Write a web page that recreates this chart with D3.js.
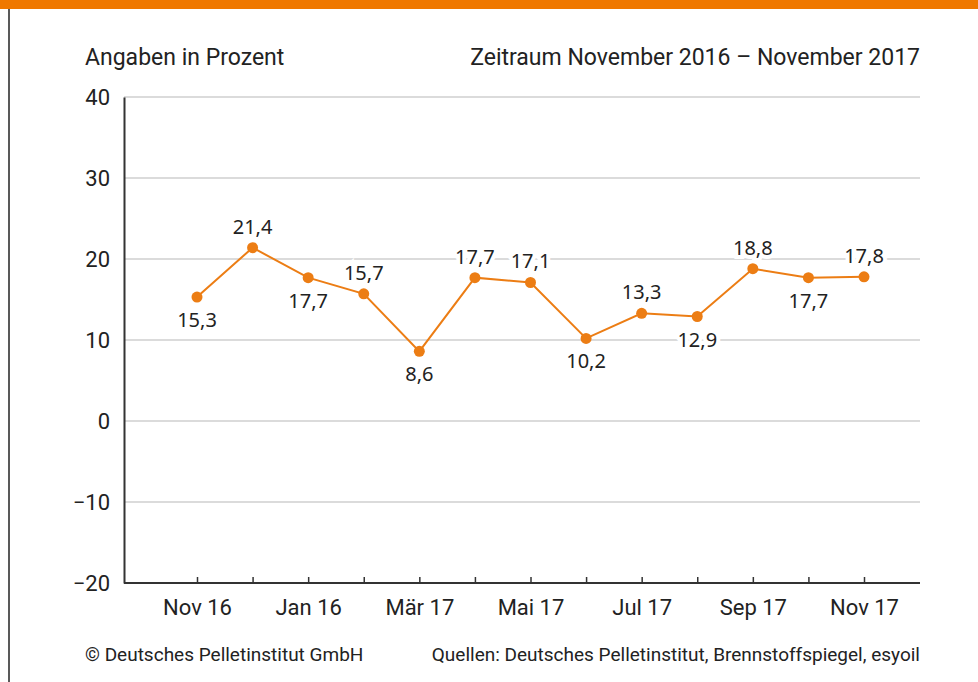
<!DOCTYPE html>
<html>
<head>
<meta charset="utf-8">
<script src="https://cdn.jsdelivr.net/npm/d3@7"></script>
<style>
  html, body { margin: 0; padding: 0; background: #fff; }
  svg text { font-family: "Liberation Sans Narrow", "Roboto", sans-serif; fill: #222; }
  .vlabel { font-family: "Noto Sans", "Open Sans", sans-serif; }
</style>
</head>
<body>
<svg id="chart" width="978" height="682"></svg>
<script>
// monthly values (Prozent)
const months = ["Nov 16", "Dez 16", "Jan 16", "Feb 17", "Mär 17", "Apr 17", "Mai 17",
                "Jun 17", "Jul 17", "Aug 17", "Sep 17", "Okt 17", "Nov 17"];
const values = [15.3, 21.4, 17.7, 15.7, 8.6, 17.7, 17.1, 10.2, 13.3, 12.9, 18.8, 17.7, 17.8];
// where the value label sits: 1 = above the point, -1 = below
const labelSide = [-1, 1, -1, 1, -1, 1, 1, -1, 1, -1, 1, -1, 1];
const yTicks = [-20, -10, 0, 10, 20, 30, 40];
const shownMonths = ["Nov 16", "Jan 16", "Mär 17", "Mai 17", "Jul 17", "Sep 17", "Nov 17"];

const orange = "#ec7d14";
const svg = d3.select("svg#chart");

// frame: orange bar on top, thin line on the left
svg.append("rect").attr("x", 0).attr("y", 0).attr("width", 978).attr("height", 9).attr("fill", "#ef7800");
svg.append("line").attr("x1", 9).attr("x2", 9).attr("y1", 9).attr("y2", 682)
  .attr("stroke", "#222").attr("stroke-width", 1.5);

const plotLeft = 124, plotRight = 920;
const y = d3.scaleLinear().domain([-20, 40]).range([583, 97]);
const x = d3.scalePoint().domain(months).range([197, 864]);

// header
svg.append("text").attr("x", 85).attr("y", 65).attr("font-size", 23).text("Angaben in Prozent");
svg.append("text").attr("x", plotRight).attr("y", 65).attr("font-size", 23).attr("text-anchor", "end")
  .text("Zeitraum November 2016 – November 2017");

// grid lines
svg.append("g").selectAll("line")
  .data(yTicks.filter(d => d > -20))
  .join("line")
  .attr("x1", plotLeft).attr("x2", plotRight)
  .attr("y1", d => y(d)).attr("y2", d => y(d))
  .attr("stroke", "#cfcfcf").attr("stroke-width", 1.5);

// y axis
const yAxis = svg.append("g")
  .attr("transform", `translate(${plotLeft},0)`)
  .call(d3.axisLeft(y).tickValues(yTicks).tickSize(0).tickPadding(14).tickFormat(d => d < 0 ? "−" + Math.abs(d) : d));
yAxis.select(".domain").attr("stroke", "#333").attr("stroke-width", 2);
yAxis.selectAll("text").attr("font-size", 22).attr("font-family", "'Noto Sans', sans-serif").attr("fill", "#222");

// x axis, ticks pointing up into the plot
const xAxis = svg.append("g")
  .attr("transform", `translate(0,${y(-20)})`)
  .call(d3.axisBottom(x).tickSizeInner(-6).tickSizeOuter(0).tickPadding(16)
    .tickFormat(d => shownMonths.includes(d) ? d : ""));
xAxis.select(".domain").attr("d", `M${plotLeft},0H${plotRight}`).attr("stroke", "#333").attr("stroke-width", 2);
xAxis.selectAll(".tick line").attr("stroke", "#333").attr("stroke-width", 1.5);
xAxis.selectAll("text").attr("font-size", 22).attr("fill", "#222")
  .attr("font-family", "'Liberation Sans Narrow', Roboto, sans-serif");

// line and points
const data = months.map((m, i) => ({ month: m, value: values[i], side: labelSide[i] }));
const line = d3.line().x(d => x(d.month)).y(d => y(d.value));
svg.append("path").datum(data).attr("d", line)
  .attr("fill", "none").attr("stroke", orange).attr("stroke-width", 2);
svg.append("g").selectAll("circle").data(data).join("circle")
  .attr("cx", d => x(d.month)).attr("cy", d => y(d.value)).attr("r", 5.5)
  .attr("fill", orange);

// value labels with white knock-out behind them
const fmt = v => d3.format(".1f")(v).replace(".", ",");
svg.append("g").selectAll("text").data(data).join("text")
  .attr("class", "vlabel")
  .attr("x", d => x(d.month))
  .attr("y", d => y(d.value) + (d.side > 0 ? -14 : 30))
  .attr("text-anchor", "middle").attr("font-size", 20)
  .attr("stroke", "#fff").attr("stroke-width", 8).attr("paint-order", "stroke")
  .text(d => fmt(d.value));

// footer
svg.append("text").attr("x", 85).attr("y", 661).attr("font-size", 19).text("© Deutsches Pelletinstitut GmbH");
svg.append("text").attr("x", plotRight).attr("y", 661).attr("font-size", 19).attr("text-anchor", "end")
  .text("Quellen: Deutsches Pelletinstitut, Brennstoffspiegel, esyoil");
</script>
</body>
</html>
